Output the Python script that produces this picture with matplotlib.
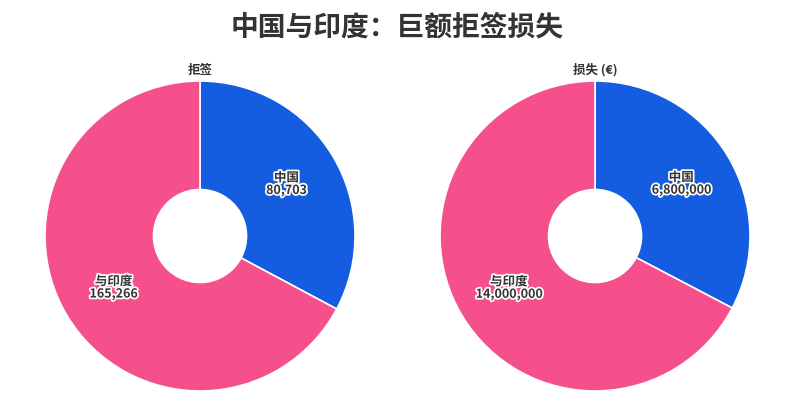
import matplotlib
matplotlib.use("Agg")
import numpy as np
import matplotlib.pyplot as plt
import matplotlib.patheffects as pe

plt.rcParams['font.family'] = ['Noto Sans CJK SC', 'DejaVu Sans']

# data
categories = ['中国', '与印度']
refusals = [80703, 165266]
losses = [6800000, 14000000]
panel_titles = ['拒签', '损失 (€)']
colors = ['#155DE0', '#F5508C']

title = '中国与印度：巨额拒签损失'


def draw_donut(ax, values, name):
    ax.pie(values, colors=colors, startangle=90, counterclock=False,
           radius=1.0, wedgeprops=dict(width=0.7, edgecolor='white', linewidth=1.2))
    total = sum(values)
    start = 90.0
    for v, lab in zip(values, categories):
        sweep = 360.0 * v / total
        mid = np.deg2rad(start - sweep / 2)
        start -= sweep
        r = 0.65
        ax.text(r * np.cos(mid), r * np.sin(mid), '%s\n%s' % (lab, format(v, ',')),
                ha='center', va='center', fontsize=9, fontweight='bold', color='#333333',
                linespacing=0.95,
                path_effects=[pe.withStroke(linewidth=2.5, foreground='white')])
    ax.set_title(name, fontsize=9, fontweight='bold', color='#333333', pad=6)
    ax.set_xlim(-1, 1)
    ax.set_ylim(-1, 1)
    ax.set_aspect('equal')


fig = plt.figure(figsize=(7.94, 4.06), dpi=100)
ax1 = fig.add_axes([0.0567, 0.0345, 0.3904, 0.7635])
ax2 = fig.add_axes([0.5542, 0.0345, 0.3904, 0.7635])

draw_donut(ax1, refusals, panel_titles[0])
draw_donut(ax2, losses, panel_titles[1])

fig.text(0.5, 0.933, title, ha='center', va='center', fontsize=20,
         fontweight='bold', color='#333333')

fig.savefig('out.png', dpi=100)
